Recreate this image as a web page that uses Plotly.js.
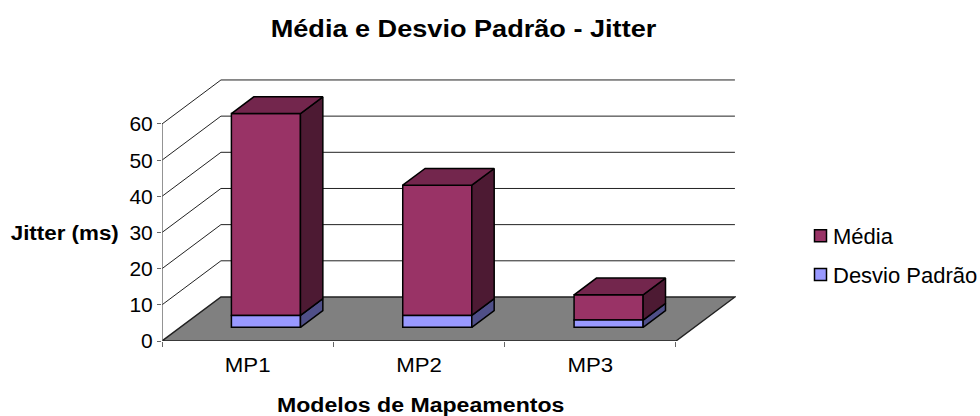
<!DOCTYPE html>
<html><head><meta charset="utf-8">
<script src="https://cdn.plot.ly/plotly-3.0.1.min.js"></script>
<style>html,body{margin:0;padding:0;background:#fff}#c{width:980px;height:416px}</style>
</head><body><div id="c"></div>
<script>
const categories = ["MP1", "MP2", "MP3"];
const media = [55.8, 36, 7];
const desvio = [3.3, 3.3, 2];
const yTicks = [0, 10, 20, 30, 40, 50, 60];
const seriesNames = ["Média", "Desvio Padrão"];

const FONT = '"Liberation Sans", Arial, sans-serif';
const depthX = 0.344, depthY = 12.17;   // projection of the chart depth, in axis units
const nearF = 0.31, farF = 0.69, barW = 0.403;
const xMin = -0.5, xMax = categories.length - 0.5;
const idx = categories.map((_, i) => i);
const centers = idx.map(i => i + nearF * depthX);
const baseLow = idx.map(() => nearF * depthY);
const baseHigh = idx.map(i => baseLow[i] + desvio[i]);
const tops = idx.map(i => baseHigh[i] + media[i]);
const dX = (farF - nearF) * depthX, dY = (farF - nearF) * depthY;

const polyTrace = (polys, fill) => {
  const x = [], y = [];
  polys.forEach(p => { p.forEach(q => { x.push(q[0]); y.push(q[1]); }); x.push(null); y.push(null); });
  return {type: "scatter", mode: "lines", x, y, fill: "toself", fillcolor: fill,
    line: {color: "#000", width: 1.5}, showlegend: false, hoverinfo: "skip"};
};
const sideFaces = (lo, hi) => idx.map(i => {
  const r = centers[i] + barW / 2;
  return [[r, lo[i]], [r + dX, lo[i] + dY], [r + dX, hi[i] + dY], [r, hi[i]], [r, lo[i]]];
});
const topFaces = idx.map(i => {
  const l = centers[i] - barW / 2, r = centers[i] + barW / 2, t = tops[i];
  return [[l, t], [r, t], [r + dX, t + dY], [l + dX, t + dY], [l, t]];
});

const barTrace = (name, y, base, color) => ({
  type: "bar", name, x: centers, y, base, width: barW, legendgroup: name,
  marker: {color, line: {color: "#000", width: 1.5}}, hoverinfo: "skip"
});

const data = [
  barTrace(seriesNames[0], media, baseHigh, "#993366"),
  barTrace(seriesNames[1], desvio, baseLow, "#9999FF"),
  polyTrace(sideFaces(baseLow, baseHigh), "#4F4F88"),
  polyTrace(sideFaces(baseHigh, tops), "#4D1A33"),
  polyTrace(topFaces, "#73264D")
];

const ln = (x0, y0, x1, y1, color, width) => ({type: "line", xref: "x", yref: "y", x0, y0, x1, y1, layer: "below",
  line: {color, width}});
const shapes = [];
shapes.push({type: "path", xref: "x", yref: "y", layer: "below", fillcolor: "#808080",
  path: `M${xMin},0 L${xMax},0 L${xMax + depthX},${depthY} L${xMin + depthX},${depthY} Z`,
  line: {color: "#222", width: 1.5}});
yTicks.forEach(v => {
  if (v > 0) {
    shapes.push(ln(xMin, v, xMin + depthX, v + depthY, "#222", 1));
    shapes.push(ln(xMin + depthX, v + depthY, xMax + depthX, v + depthY, "#222", 1));
  }
});
shapes.push(ln(xMin, 0, xMin, yTicks[yTicks.length - 1], "#666", 1.4));

const pw = 980 - 162 - 244, ph = 416 - 78 - 75;
const toPaper = (px, py) => [(px - 162) / pw, (341 - py) / ph];
const note = (text, px, py) => {
  const [x, y] = toPaper(px, py);
  return {text: `<b>${text}</b>`, xref: "paper", yref: "paper", x, y, xanchor: "center", yanchor: "middle",
    showarrow: false, font: {size: 21, family: FONT}};
};

const layout = {
  width: 980, height: 416, showlegend: true, paper_bgcolor: "#fff", plot_bgcolor: "rgba(0,0,0,0)",
  margin: {l: 162, r: 244, t: 78, b: 75, pad: 0},
  font: {family: FONT, color: "#000", size: 21},
  title: {text: "<b>Média e Desvio Padrão - Jitter</b>", x: 463.5 / 980, xanchor: "center", y: 1 - 29 / 416, yanchor: "middle",
    font: {family: FONT, size: 24, color: "#000"}},
  barmode: "overlay",
  xaxis: {range: [xMin, xMin + 574 / 171.33], tickvals: idx, ticktext: categories, ticks: "outside", ticklen: 5,
    tickcolor: "rgba(0,0,0,0)", showgrid: false, zeroline: false, showline: false, tickfont: {size: 21, family: FONT},
    minor: {tickvals: [-0.5, 0.5, 1.5, 2.5], ticks: "outside", ticklen: 5, tickwidth: 1, tickcolor: "#666", showgrid: false}},
  yaxis: {range: [0, 263 / 3.617], tickvals: yTicks, ticktext: yTicks.map(String), ticks: "outside", ticklen: 4, tickcolor: "#666",
    showgrid: false, zeroline: false, showline: false, tickfont: {size: 21, family: FONT}},
  shapes,
  legend: {x: 793 / 980, xref: "container", xanchor: "left", y: 1 - 215 / 416, yref: "container", yanchor: "top", bgcolor: "rgba(0,0,0,0)",
    font: {size: 22, family: FONT}, tracegroupgap: 7, traceorder: "grouped", itemclick: false, itemdoubleclick: false},
  annotations: [note("Jitter (ms)", 64.5, 232), note("Modelos de Mapeamentos", 420.5, 404)]
};

// The reference's text is drawn slightly wider than the font's own proportions.
const widen = (el, k, anchor) => {
  const b = el.getBBox();
  const cx = anchor === "left" ? b.x : anchor === "right" ? b.x + b.width : b.x + b.width / 2;
  const old = el.getAttribute("transform") || "";
  el.setAttribute("transform", `${old} translate(${cx},0) scale(${k},1) translate(${-cx},0)`);
};
Plotly.newPlot("c", data, layout, {displayModeBar: false, staticPlot: true}).then(gd => {
  gd.querySelectorAll(".gtitle").forEach(e => widen(e, 1.13, "center"));
  gd.querySelectorAll(".xtick text").forEach(e => widen(e, 1.06, "center"));
  gd.querySelectorAll(".annotation-text").forEach((e, i) => widen(e, i === 0 ? 1.065 : 1.10, "center"));
  gd.querySelectorAll(".legend .legendsymbols").forEach(e => {
    e.setAttribute("transform", `${e.getAttribute("transform") || ""} translate(7.5,0)`);
  });
});
</script></body></html>
